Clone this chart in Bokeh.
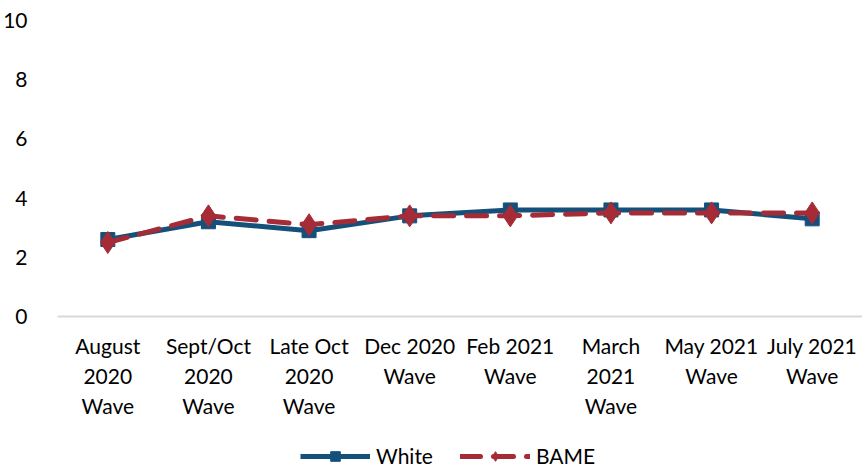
from bokeh.plotting import figure
from bokeh.models import FactorRange, Range1d, Legend, LegendItem, FixedTicker
from bokeh.layouts import column
from bokeh.embed import file_html
from bokeh.resources import INLINE

categories = ["August\n2020\nWave", "Sept/Oct\n2020\nWave", "Late Oct\n2020\nWave",
              "Dec 2020\nWave", "Feb 2021\nWave", "March\n2021\nWave",
              "May 2021\nWave", "July 2021\nWave"]
white = [2.6, 3.2, 2.9, 3.4, 3.6, 3.6, 3.6, 3.3]
bame = [2.5, 3.4, 3.1, 3.4, 3.4, 3.5, 3.5, 3.5]
y_ticks = [0, 2, 4, 6, 8, 10]
series_names = ["White", "BAME"]

FONT = "Lato"
BLUE = "#15507a"
RED = "#a52c37"

p = figure(frame_width=805, frame_height=296, x_range=FactorRange(*categories),
           y_range=Range1d(0, 10), output_backend="svg", toolbar_location=None,
           min_border_left=49, min_border_right=0, min_border_top=20,
           min_border_bottom=106)
p.outline_line_color = None
p.xgrid.grid_line_color = None
p.ygrid.grid_line_color = None

p.line(categories, white, line_color=BLUE, line_width=5)
p.scatter(categories, white, marker="square", size=14, fill_color=BLUE, line_color=BLUE)
p.line(categories, bame, line_color=RED, line_width=5, line_dash="20 13", line_cap="round")
p.scatter(categories, bame, marker="diamond", size=22, fill_color=RED, line_color=RED)

p.yaxis.ticker = FixedTicker(ticks=y_ticks)
p.yaxis.axis_line_color = None
p.yaxis.major_tick_line_color = None
p.yaxis.minor_tick_line_color = None
p.yaxis.major_label_standoff = 24
p.yaxis.major_label_text_font = FONT
p.yaxis.major_label_text_font_size = "21px"
p.yaxis.major_label_text_color = "#000000"

p.xaxis.axis_line_color = "#d9d9d9"
p.xaxis.axis_line_width = 2
p.xaxis.major_tick_line_color = None
p.xaxis.minor_tick_line_color = None
p.xaxis.major_label_standoff = 10
p.xaxis.major_label_text_font = FONT
p.xaxis.major_label_text_font_size = "21px"
p.xaxis.major_label_text_color = "#000000"
p.xaxis.major_label_text_line_height = 1.2

# legend in its own strip below the chart (series drawn off-range, so only legend glyphs show)
lf = figure(width=p.frame_width + 57, height=46, x_range=Range1d(0, 1), y_range=Range1d(0, 1),
            output_backend="svg", toolbar_location=None,
            min_border_left=0, min_border_right=0, min_border_top=0, min_border_bottom=0)
lf.outline_line_color = None
lf.axis.visible = False
lf.grid.visible = False
idx = list(range(len(white)))
lw = lf.line(idx, white, line_color=BLUE, line_width=5)
sw = lf.scatter(idx, white, marker="square", size=14, fill_color=BLUE, line_color=BLUE)
lb = lf.line(idx, bame, line_color=RED, line_width=5, line_dash="20 13", line_cap="round")
sb = lf.scatter(idx, bame, marker="diamond", size=22, fill_color=RED, line_color=RED)

legend = Legend(items=[LegendItem(label=series_names[0], renderers=[lw, sw]),
                       LegendItem(label=series_names[1], renderers=[lb, sb])],
                orientation="horizontal", location=(243, 0),
                label_text_font=FONT, label_text_font_size="21px",
                label_text_color="#000000",
                glyph_width=70, glyph_height=24, spacing=27,
                border_line_color=None, background_fill_alpha=0,
                padding=0, margin=0, label_standoff=6)
lf.add_layout(legend, "center")

layout = column(p, lf, spacing=0)
open("out.html", "w").write(file_html(layout, INLINE))
